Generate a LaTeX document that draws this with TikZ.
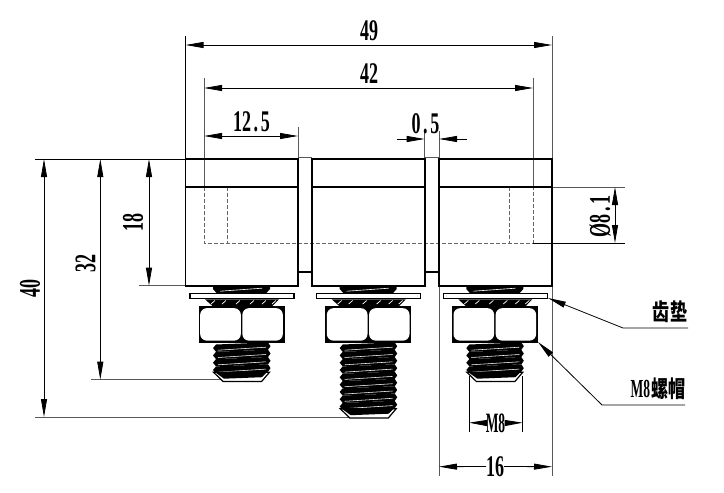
\documentclass[tikz,border=0pt]{standalone}
\usepackage{fontspec}
\usepackage{graphicx}
\usetikzlibrary{arrows.meta}
\newfontfamily\cjkf{Noto Sans CJK SC}
\newfontfamily\digf{Liberation Serif}[BoldFont={Liberation Serif Bold}]
\newcommand{\dimtxt}[1]{\scalebox{.6}[1]{\fontsize{30}{30}\digf\bfseries\selectfont #1}}
\newcommand{\mtxt}[1]{\scalebox{.48}[1]{\fontsize{28}{28}\digf\bfseries\selectfont #1}}
\newcommand{\cjktxt}[1]{\scalebox{.74}[1]{\fontsize{23}{23}\cjkf\selectfont #1}}
\tikzset{
  outline/.style={line width=1.7pt,draw=black},
  thinl/.style={line width=.8pt,draw=black},
  extl/.style={line width=.9pt,draw=black!65},
  hidden/.style={line width=.6pt,draw=black!60,dash pattern=on 4pt off 2pt},
  dimtip/.style={thinl,{Triangle[length=18pt,width=6pt]}-{Triangle[length=18pt,width=6pt]}},
  dimstart/.style={thinl,{Triangle[length=18pt,width=6pt]}-},
  dimend/.style={thinl,-{Triangle[length=18pt,width=6pt]}},
  lbl/.style={inner sep=0pt,outer sep=0pt},
  vlbl/.style={inner sep=0pt,outer sep=0pt,rotate=90},
}
% #1 x shift, #2 number of thread teeth
\newcommand{\boltgroup}[2]{%
\begin{scope}[xshift=#1pt]
  % spring part above washer
  \fill (213,286) -- (270,286) -- (270,289) -- (266,293.5) -- (217,293.5) -- (213,289) -- cycle;
  \draw[white,line width=.6pt] (220,291.2) -- (262,288.2);
  % washer
  \draw[line width=1.3pt,fill=white] (190,293.5) rectangle (294,298.8);
  % tooth washer
  \fill (205,299.3) -- (279,299.3) -- (272,306.5) -- (213,306.5) -- cycle;
  \foreach \xa in {211,222,236,250,262,272}
    \draw[white,line width=.7pt] (\xa,304) -- (\xa+4,300.5);
  % nut
  \fill (198.5,306) rectangle (284.5,342.8);
  \fill[white,rounded corners=6.5pt] (200.2,308.2) rectangle (240.8,340.6);
  \fill[white,rounded corners=6.5pt] (242.4,308.2) rectangle (282.8,340.6);
  % thread
  \foreach \i in {1,...,#2}{
    \pgfmathsetmacro{\ya}{343+(\i-1)*7.3}
    \fill (216,\ya+1.5) -- (213,\ya+5.1) -- (216,\ya+8.8) -- (268,\ya+6.8) -- (270.5,\ya+3.2) -- (268,\ya-.6) -- cycle;
    \draw[white,line width=.55pt] (218,\ya+7.2) -- (266,\ya+4.2);
  }
  % tip
  \pgfmathsetmacro{\ytop}{343+#2*7.3}
  \draw[line width=1.2pt,fill=white] (213.5,\ytop) -- (223,\ytop+9.2) -- (261.7,\ytop+9.2) -- (269.5,\ytop) -- cycle;
  \fill (215,\ytop) -- (268,\ytop-1) -- (262,\ytop+5) -- (224,\ytop+6.5) -- cycle;
\end{scope}}
\begin{document}
\begin{tikzpicture}[x=1pt,y=-1pt]
\useasboundingbox (0,0) rectangle (724,493);
% hidden lines
\draw[hidden] (204,187) -- (204,243) -- (533,243) -- (533,187);
\draw[hidden] (227.5,187) -- (227.5,243);
\draw[hidden] (509,187) -- (509,243);
% extension lines
\draw[thinl] (35,159) -- (186,159);
\draw[extl] (139,285.7) -- (186,285.7);
\draw[extl] (91,379.7) -- (224,379.7);
\draw[extl] (35,417) -- (361,417);
\draw[thinl] (185.5,36) -- (185.5,159);
\draw[extl] (552,36) -- (552,159);
\draw[extl] (204,78) -- (204,187);
\draw[extl] (533,78) -- (533,187);
\draw[extl] (298,127) -- (298,159);
\draw[extl] (424.7,131) -- (424.7,159);
\draw[extl] (439,131) -- (439,159);
\draw[extl] (552,187) -- (625,187);
\draw[thinl] (533,243) -- (625,243);
\draw[extl] (439,286) -- (439,476);
\draw[extl] (552,286) -- (552,476);
\draw[thinl] (469,376) -- (469,432);
\draw[thinl] (522.7,376) -- (522.7,432);
% bodies
\foreach \xa/\xb in {185.5/298,312/424.7,439/551.7}{
  \draw[outline] (\xa,159) rectangle (\xb,285.7);
  \draw[outline] (\xa,187) -- (\xb,187);
}
\draw[extl] (298,157.7) -- (312,157.7);
\draw[extl] (424.7,157.7) -- (439,157.7);
\draw[line width=1.1pt] (298,272) -- (312,272);
\draw[line width=1.1pt] (424.7,272) -- (439,272);
% bolts
\boltgroup{0}{4}
\boltgroup{126.7}{9}
\boltgroup{253.3}{4}
% dimensions
\draw[dimtip] (185.5,45) -- (552,45);
\node[lbl] (d49) at (369,31) {\dimtxt{49}};
\draw[dimtip] (204,88) -- (533,88);
\node[lbl] (d42) at (369,73.5) {\dimtxt{42}};
\draw[dimtip] (204,136) -- (298,136);
\node[lbl] (d125) at (251.5,122) {\dimtxt{12\kern.14em.\kern.14em5}};
\draw[dimend] (396.7,139) -- (424.7,139);
\draw[dimstart] (439,139) -- (467,139);
\node[lbl] (d05) at (425.5,124) {\dimtxt{0\kern.14em.\kern.14em5}};
\draw[dimtip] (44,159) -- (44,417);
\node[vlbl] (d40) at (30,288) {\dimtxt{40}};
\draw[dimtip] (100.3,159) -- (100.3,379.7);
\node[vlbl] (d32) at (85.7,263) {\dimtxt{32}};
\draw[dimtip] (149,159) -- (149,285.7);
\node[vlbl] (d18) at (133,222) {\dimtxt{18}};
\draw[dimtip] (615,187) -- (615,243);
\node[vlbl] (d81) at (600,216.5) {\dimtxt{Ø8\kern.14em.\kern.14em1}};
\node[lbl] (dm8) at (495.5,423) {\mtxt{M8}};
\draw[dimstart] (469,422.7) -- (dm8.west);
\draw[dimstart] (522.7,422.7) -- (dm8.east);
\node[lbl] (d16) at (495,466.5) {\dimtxt{16}};
\draw[dimstart] (439,466.7) -- (d16.west);
\draw[dimstart] (552,466.7) -- (d16.east);
% leaders
\coordinate (lw0) at (548,298);
\coordinate (lw1) at (623,328);
\coordinate (lw2) at (688,328);
\coordinate (ln0) at (538,342);
\coordinate (ln1) at (602,405);
\coordinate (ln2) at (685,405);
\draw[dimstart] (lw0) -- (lw1) -- (lw2);
\draw[dimstart] (ln0) -- (ln1) -- (ln2);
\node[lbl] (tw) at (670,312) {\cjktxt{\bfseries 齿垫}};
\node[lbl] (tn) at (658,389) {\scalebox{.52}[1]{\fontsize{26}{26}\digf\bfseries\selectfont M8}\kern1pt\cjktxt{\bfseries 螺帽}};
\end{tikzpicture}
\end{document}
